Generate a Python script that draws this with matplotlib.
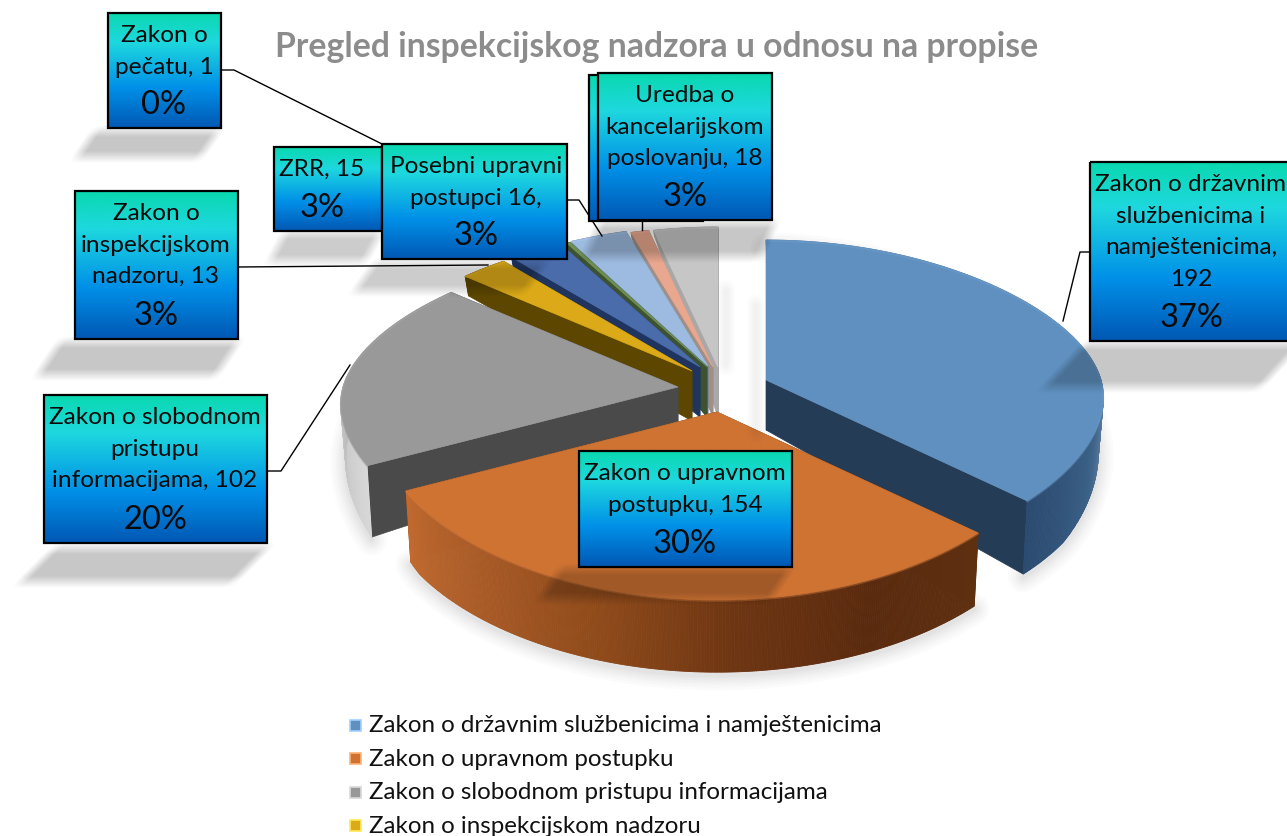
import numpy as np
import matplotlib
matplotlib.use('Agg')
import matplotlib.pyplot as plt
from matplotlib.colors import LinearSegmentedColormap, to_rgb
from matplotlib.patches import Rectangle

plt.rcParams['font.family'] = ['Lato', 'DejaVu Sans']

# data (the 5 of the salmon slice is a guess, its label is hidden)
values = [192, 154, 102, 13, 15, 1, 16, 5, 18]
labels = ['Zakon o državnim\nslužbenicima i\nnamještenicima,\n192',
          'Zakon o upravnom\npostupku, 154',
          'Zakon o slobodnom\npristupu\ninformacijama, 102',
          'Zakon o\ninspekcijskom\nnadzoru, 13',
          'ZRR, 15',
          'Zakon o\npečatu, 1',
          'Posebni upravni\npostupci 16,',
          '',
          'Uredba o\nkancelarijskom\nposlovanju, 18']
legend_names = ['Zakon o državnim službenicima i namještenicima',
                'Zakon o upravnom postupku',
                'Zakon o slobodnom pristupu informacijama',
                'Zakon o inspekcijskom nadzoru']
title = 'Pregled inspekcijskog nadzora u odnosu na propise'

# styles
top_colors = ['#5f90bf', '#cf7333', '#999999', '#dcaa18', '#4a6cab', '#6f9150', '#9dbbe0', '#e8a78e', '#c6c6c6']
cut_colors = ['#243c55', '#6e3712', '#4a4a4a', '#5c4600', '#1f3560', '#3c5230', '#6d8299', '#a08f86', '#a8a8a8']
wall_colors = [['#7f97b0'] * 5 + ['#3c6288', '#2b4a70'],
               ['#5e3010', '#5a2a0e', '#6d3512', '#8f4a1a', '#a85a26', '#c06a30'],
               ['#d8d8d8', '#b5b5b5', '#a8a8a8'],
               ['#5c4600', '#5c4600'], ['#1f3560', '#1f3560'], ['#3c5230', '#3c5230'],
               ['#6d8299', '#6d8299'], ['#a08f86', '#a08f86'], ['#a8a8a8', '#a8a8a8']]
# pixel position of the tip of every slice
apex_x = [766, 717, 678, 692, 700, 707, 708, 713, 718]
apex_y = [381, 413, 388, 372, 368, 368, 367, 368, 368]
# rear slices first, the front ones go over them
draw_order = [8, 7, 6, 5, 4, 3, 2, 0, 1]

# label boxes: left, top, right, bottom, text centre
boxes = [(1090, 163, 1290, 342, 1191),
         (579, 452, 792, 568, 685),
         (44, 396, 267, 544, 155),
         (75, 192, 238, 340, 156),
         (274, 148, 382, 232, 322),
         (108, 14, 221, 129, 164),
         (382, 145, 567, 260, 476),
         (589, 76, 703, 222, 646),
         (598, 74, 772, 221, 685)]
box_order = [5, 3, 2, 4, 6, 7, 8, 0, 1]

leaders = [[(222, 71), (234, 71), (382, 145)],
           [(567, 201), (579, 201), (602, 237)],
           [(238, 268), (488, 266)],
           [(267, 472), (281, 472), (350, 366)],
           [(1090, 253), (1080, 253), (1063, 322)],
           [(642, 222), (642, 231)]]

# shadows: top left, top right, top y, bottom y, shift to the left at the bottom, strength
shadows = [(95, 218, 132, 158, 18, 0.22),
           (60, 238, 343, 376, 22, 0.22),
           (55, 267, 549, 583, 34, 0.22),
           (1085, 1300, 345, 388, 40, 0.22),
           (600, 775, 224, 258, 16, 0.22),
           (375, 545, 264, 292, 20, 0.2),
           (285, 380, 234, 262, 15, 0.2),
           (560, 790, 570, 600, 20, 0.22),
           (752, 760, 300, 440, 0, 0.08),
           (722, 730, 285, 372, 0, 0.08)]

total = sum(values)
ends = np.cumsum(values) / total * 360
starts = np.concatenate([[0], ends[:-1]])


def rim(theta):
    t = np.radians(theta)
    u, v = np.sin(t), -np.cos(t)
    x = u * (335 + 40 * v)
    y = np.where(v > 0, v * (143 + 45 * v), v * 140)
    return x, y, v


def depth(v):
    return np.minimum(50 + 47 * v, 75)


fig = plt.figure(figsize=(12.87, 8.37), dpi=100)
ax = fig.add_axes([0, 0, 1, 1])

# soft shadow under the pie
for i in [0, 1, 2]:
    th = np.linspace(starts[i], ends[i], 60)
    x, y, v = rim(th)
    bx = apex_x[i] + 0.985 * x
    by = apex_y[i] + depth(v) + 0.985 * y + 3
    for w in [22, 18, 14, 11, 8, 5, 3]:
        ax.plot(bx, by, color='black', alpha=0.015, lw=w, solid_capstyle='round', zorder=1)

for i in draw_order:
    ax_, ay_ = apex_x[i], apex_y[i]
    th = np.linspace(starts[i], ends[i], max(8, int(values[i] * 2)))
    x, y, v = rim(th)
    tx, ty = ax_ + x, ay_ + y
    bx, by = ax_ + 0.985 * x, ay_ + depth(v) + 0.985 * y
    # both cut faces, the hidden one ends up under the top
    for k in [0, -1]:
        ax.fill([ax_, tx[k], bx[k], ax_], [ay_, ty[k], by[k], ay_ + 50],
                color=cut_colors[i], lw=0.5, zorder=2)
    cmap = LinearSegmentedColormap.from_list('w', wall_colors[i])
    for j in range(len(th) - 1):
        c = cmap(j / max(1, len(th) - 2))
        ax.fill([tx[j], tx[j + 1], bx[j + 1], bx[j]], [ty[j], ty[j + 1], by[j + 1], by[j]],
                color=c, lw=0.6, zorder=2)
    ax.fill(np.r_[ax_, tx], np.r_[ay_, ty], color=top_colors[i], lw=0.5, zorder=2)
    light = tuple(min(1, c + 0.08) for c in to_rgb(top_colors[i]))
    ax.plot(tx, ty + 1, color=light, lw=1.2, alpha=0.35, zorder=2)

# shadows of the boxes lie over the pie
H, W = 837, 1287
yy, xx = np.mgrid[0:H, 0:W] + 0.5
alpha = np.zeros((H, W))
for x0, x1, y0, y1, skew, strength in shadows:
    f = np.clip((yy - y0) / (y1 - y0), -1, 2)
    ramp = lambda d: np.clip(d / 12 + 0.5, 0, 1)
    mask = ramp(yy - y0) * ramp(y1 - yy) * ramp(xx - x0 + skew * f) * ramp(x1 - skew * f - xx)
    alpha = np.maximum(alpha, mask * strength)
layer = np.zeros((H, W, 4))
layer[..., 3] = alpha
ax.imshow(layer, extent=(0, W, H, 0), aspect='auto', zorder=3, interpolation='bilinear')

for pts in leaders:
    ax.plot([p[0] for p in pts], [p[1] for p in pts], color='black', lw=1.0, zorder=4)

grad = LinearSegmentedColormap.from_list('box', [(0, '#0ad8b0'), (0.25, '#1ed8de'), (0.65, '#0090e8'), (1, '#0058b4')])
ramp_img = np.linspace(0, 1, 128).reshape(-1, 1)
for n, i in enumerate(box_order):
    l, t, r, b, c = boxes[i]
    z = 5 + n * 0.1
    ax.imshow(ramp_img, extent=(l, r, b, t), cmap=grad, aspect='auto', zorder=z, vmin=0, vmax=1)
    ax.add_patch(Rectangle((l, t), r - l, b - t, fill=False, ec='black', lw=1.6, zorder=z + 0.01))
    if labels[i] == '':
        continue
    for k, line in enumerate(labels[i].split('\n')):
        ax.text(c, t + 21.5 + 31.5 * k, line, fontsize=17.6, ha='center', va='center', color='#0a0a0a', zorder=z + 0.02)
    pct = '%d%%' % round(values[i] / total * 100)
    ax.text(c, b - 24, pct, fontsize=23.5, ha='center', va='center', color='#0a0a0a', zorder=z + 0.02)

ax.text(657, 47, title, fontsize=24.3, fontweight='bold', color='#8c8c8c', ha='center', va='center', zorder=9)

for i, name in enumerate(legend_names):
    yc = 726 + 33.5 * i
    ax.add_patch(Rectangle((349.5, yc - 5.5), 11, 11, fc=top_colors[i], ec=tuple(min(1, c + 0.25) for c in to_rgb(top_colors[i])), lw=1.2, zorder=9))
    ax.text(369, yc, name, fontsize=17.4, color='#111111', ha='left', va='center', zorder=9)

ax.set_xlim(0, W)
ax.set_ylim(H, 0)
ax.axis('off')
fig.savefig('out.png', dpi=100)
